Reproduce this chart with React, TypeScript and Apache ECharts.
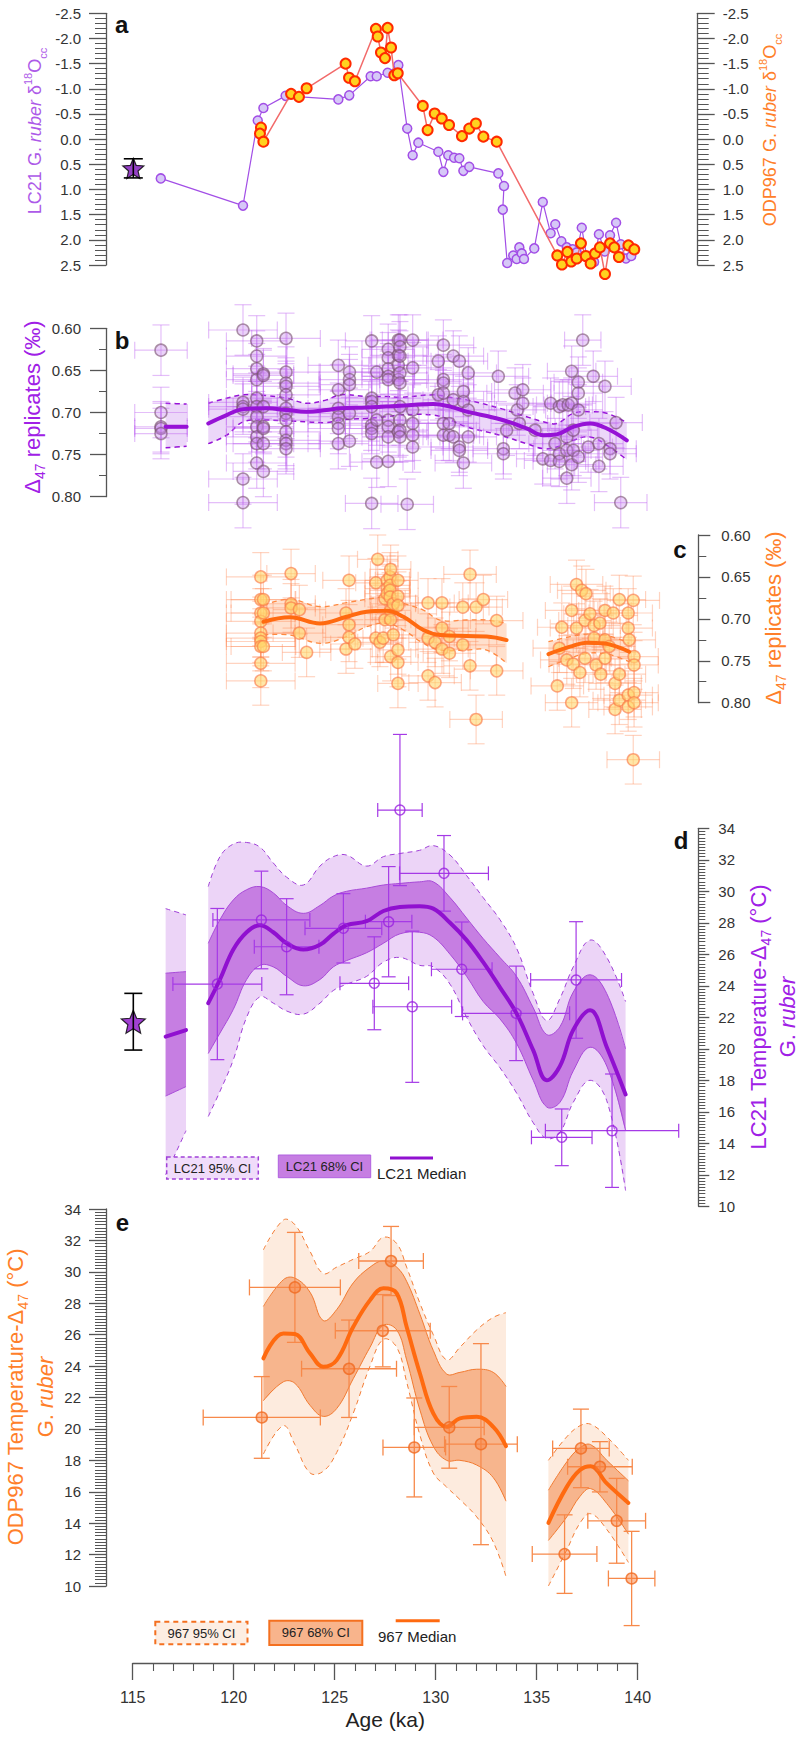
import React, { useEffect, useRef } from "react";
import * as echarts from "echarts";

// ---------------- axis ranges / ticks ----------------
const ageAxis = { min: 115, max: 140, interval: 5 };
const d18OAxis = { min: -2.5, max: 2.5, interval: 0.5 };
const d47Axis = { min: 0.6, max: 0.8, interval: 0.05 };
const tempAxis = { min: 10, max: 34, interval: 2 };

// ---------------- panel a : d18O ----------------
const lc21D18O: number[][] = [
  [116.39, 0.78], [120.46, 1.32], [121.19, -0.37], [121.47, -0.62], [122.57, -0.86], [125.18, -0.79],
  [125.72, -0.87], [126.78, -1.25], [127.08, -1.25], [127.62, -1.32], [128.15, -1.47], [128.59, -0.21],
  [128.86, 0.32], [129.14, 0.07], [130.13, 0.25], [130.38, 0.65], [130.62, 0.32], [130.91, 0.37],
  [131.17, 0.38], [131.37, 0.63], [131.66, 0.55], [133.10, 0.68], [133.38, 0.93], [133.32, 1.40],
  [133.54, 2.46], [133.84, 2.31], [134.01, 2.38], [134.14, 2.15], [134.26, 2.27], [134.37, 2.38],
  [134.88, 2.17], [135.30, 1.25], [135.69, 1.87], [135.92, 1.69], [136.22, 2.03], [136.49, 2.15],
  [136.78, 2.19], [136.98, 2.25], [137.23, 1.76], [137.48, 2.34], [137.84, 2.44], [138.08, 1.89],
  [138.37, 2.23], [138.63, 1.91], [138.93, 1.66], [139.16, 2.09], [139.42, 2.37], [139.68, 2.32],
];
const odp967D18O: number[][] = [
  [121.35, -0.23], [121.30, -0.11], [121.47, 0.05], [122.84, -0.90], [123.23, -0.84], [123.61, -1.01],
  [125.54, -1.50], [125.71, -1.22], [126.00, -1.15], [127.04, -2.19], [127.13, -2.04], [127.29, -1.72],
  [127.49, -1.61], [127.62, -2.21], [127.79, -1.82], [127.95, -1.27], [128.12, -1.31], [129.36, -0.66],
  [129.60, -0.18], [129.95, -0.51], [130.30, -0.41], [130.66, -0.28], [131.30, -0.06], [131.66, -0.21],
  [131.99, -0.31], [132.36, -0.05], [133.02, 0.05], [136.02, 2.31], [136.25, 2.49], [136.52, 2.24],
  [136.71, 2.43], [136.98, 2.37], [137.19, 2.07], [137.43, 2.32], [137.67, 2.47], [137.89, 2.27],
  [138.13, 2.15], [138.38, 2.68], [138.63, 2.07], [138.84, 2.15], [139.07, 2.34], [139.54, 2.11],
  [139.83, 2.19],
];
// core-top (star)
const coreTopAge = 115.03;
const coreTopD18O = 0.58;
const coreTopD18OErr = 0.19;
const coreTopT = 21.72;
const coreTopTErr = 1.8;

// ---------------- panel b : LC21 D47 replicates ----------------
const lc21SampleAge = [
  116.40, 120.46, 121.14, 121.47, 122.59, 125.18, 125.73, 126.83, 127.08, 127.65, 128.15, 128.23,
  128.59, 128.86, 130.13, 130.38, 130.67, 130.87, 131.17, 131.37, 131.61, 133.10, 133.35, 133.51,
  133.93, 134.04, 134.14, 134.31, 134.92, 135.30, 135.69, 135.91, 136.12, 136.29, 136.49, 136.56,
  136.73, 136.81, 137.06, 137.28, 137.55, 137.80, 138.08, 138.38, 138.63, 138.93, 139.16,
];
const lc21SampleAgeErr = [
  1.3, 1.7, 1.5, 1.5, 1.7, 1.5, 1.5, 1.3, 1.3, 1.3, 1.4, 1.4, 1.3, 1.5, 1.5, 1.5, 1.5, 1.5, 1.4, 1.4,
  1.4, 1.5, 1.5, 1.5, 1.4, 1.4, 1.4, 1.4, 1.3, 1.3, 1.3, 1.3, 1.3, 1.3, 1.2, 1.2, 1.2, 1.2, 1.2, 0.9,
  1.2, 1.2, 1.2, 1.3, 1.3, 1.3, 1.3,
];
const lc21RepErr = 0.03;
const lc21Replicates: number[][] = [
  [0.626, 0.700, 0.717, 0.719, 0.725],
  [0.602, 0.688, 0.693, 0.696, 0.779, 0.807],
  [0.615, 0.633, 0.648, 0.661, 0.683, 0.693, 0.705, 0.717, 0.729, 0.737, 0.760],
  [0.654, 0.656, 0.693, 0.717, 0.719, 0.737, 0.770],
  [0.612, 0.652, 0.665, 0.669, 0.679, 0.695, 0.701, 0.709, 0.723, 0.733, 0.737, 0.743],
  [0.644, 0.673, 0.695, 0.705, 0.713, 0.719, 0.737],
  [0.652, 0.661, 0.667, 0.701, 0.734],
  [0.615, 0.683, 0.687, 0.693, 0.715, 0.719, 0.725, 0.808],
  [0.652, 0.709, 0.759],
  [0.625, 0.635, 0.648, 0.657, 0.661, 0.709, 0.717, 0.729, 0.758],
  [0.614, 0.632, 0.644, 0.661, 0.723],
  [0.614, 0.622, 0.633, 0.653, 0.665, 0.693, 0.709, 0.721, 0.729],
  [0.809],
  [0.614, 0.647, 0.697, 0.713, 0.727, 0.741],
  [0.639, 0.679],
  [0.620, 0.661, 0.665, 0.677, 0.713, 0.727],
  [0.713, 0.727],
  [0.633, 0.685, 0.729],
  [0.639, 0.741, 0.745],
  [0.675, 0.687, 0.760],
  [0.653, 0.697, 0.729],
  [0.657],
  [0.743, 0.749],
  [0.721],
  [0.677],
  [0.697],
  [0.713],
  [0.673, 0.689],
  [0.721],
  [0.755],
  [0.689, 0.757],
  [0.737],
  [0.693, 0.749, 0.758],
  [0.691],
  [0.729, 0.745, 0.778],
  [0.691],
  [0.651, 0.689, 0.762],
  [0.721, 0.745],
  [0.664, 0.677, 0.697, 0.753],
  [0.614],
  [0.741],
  [0.657],
  [0.737, 0.764],
  [0.669],
  [0.743, 0.749],
  [0.712],
  [0.807],
];
// LC21 D47 fit (median and envelope)
const lc21RepFitAge1 = [116.63, 117.67];
const lc21RepFitMed1 = [0.717, 0.717];
const lc21RepFitLo1 = [0.689, 0.690];
const lc21RepFitHi1 = [0.742, 0.740];
const lc21RepFitAge2 = [118.74, 119.65, 120.48, 121.63, 122.62, 123.61, 124.60, 125.26, 126.58, 127.57, 128.23, 129.88, 130.71, 131.53, 133.18, 134.50, 135.33, 135.99, 136.81, 137.64, 138.47, 139.46];
const lc21RepFitMed2 = [0.713, 0.703, 0.696, 0.695, 0.697, 0.699, 0.697, 0.695, 0.694, 0.693, 0.692, 0.690, 0.693, 0.699, 0.708, 0.719, 0.727, 0.726, 0.717, 0.713, 0.719, 0.733];
const lc21RepFitLo2 = [0.689, 0.683, 0.679, 0.680, 0.683, 0.689, 0.685, 0.679, 0.681, 0.681, 0.682, 0.679, 0.682, 0.685, 0.695, 0.705, 0.711, 0.713, 0.701, 0.699, 0.701, 0.712];
const lc21RepFitHi2 = [0.737, 0.727, 0.711, 0.709, 0.710, 0.711, 0.712, 0.709, 0.707, 0.705, 0.703, 0.703, 0.709, 0.717, 0.727, 0.737, 0.743, 0.741, 0.733, 0.729, 0.739, 0.756];

// ---------------- panel c : ODP967 D47 replicates ----------------
const odpSampleAge = [
  121.34, 121.47, 122.84, 123.25, 123.61, 125.56, 125.71, 126.00, 127.04, 127.13, 127.24, 127.40,
  127.49, 127.60, 127.74, 127.77, 127.90, 128.13, 129.62, 129.97, 130.31, 130.68, 131.34, 131.70,
  132.00, 132.36, 133.02, 136.02, 136.12, 136.24, 136.49, 136.73, 136.81, 136.97, 137.14, 137.23,
  137.39, 137.44, 137.64, 137.84, 137.94, 138.13, 138.17, 138.38, 138.59, 138.79, 138.88, 139.09,
  139.53, 139.58, 139.78, 139.82,
];
const odpSampleAgeErr = [
  1.7, 1.6, 1.2, 1.3, 1.2, 1.3, 1.3, 1.2, 1.0, 1.0, 1.1, 1.0, 1.0, 1.1, 1.0, 1.0, 1.1, 1.0,
  1.3, 1.3, 1.3, 1.3, 1.3, 1.3, 1.3, 1.2, 1.3, 1.3, 1.3, 1.2, 1.3, 1.3, 1.2, 1.3, 1.3, 1.2,
  1.3, 1.2, 1.3, 1.3, 1.2, 1.3, 1.2, 1.3, 1.3, 1.2, 1.3, 1.3, 1.2, 1.3, 1.3, 1.2,
];
const odpRepErr = 0.029;
const odpReplicates: number[][] = [
  [0.650, 0.677, 0.693, 0.703, 0.717, 0.723, 0.727, 0.733, 0.753, 0.774],
  [0.677, 0.693, 0.733],
  [0.646, 0.682, 0.687],
  [0.689, 0.717],
  [0.740],
  [0.693, 0.736],
  [0.654, 0.707, 0.722],
  [0.730],
  [0.657, 0.723],
  [0.629],
  [0.728],
  [0.723],
  [0.676, 0.701],
  [0.654, 0.664, 0.670],
  [0.650, 0.660, 0.666, 0.674],
  [0.641, 0.690, 0.701, 0.745],
  [0.682, 0.719],
  [0.654, 0.673, 0.684, 0.737, 0.752, 0.777],
  [0.681, 0.723, 0.768],
  [0.728, 0.776],
  [0.681, 0.711, 0.736],
  [0.721, 0.741],
  [0.686, 0.731],
  [0.647, 0.756],
  [0.686, 0.820],
  [0.677],
  [0.702, 0.762],
  [0.780],
  [0.735],
  [0.710],
  [0.749],
  [0.690, 0.800],
  [0.754],
  [0.659, 0.711],
  [0.764],
  [0.666],
  [0.702, 0.747],
  [0.670],
  [0.694],
  [0.708, 0.723],
  [0.755],
  [0.705],
  [0.766],
  [0.690, 0.725, 0.747],
  [0.733],
  [0.693],
  [0.777, 0.808],
  [0.677, 0.766, 0.797],
  [0.693, 0.711, 0.791, 0.805],
  [0.725],
  [0.678, 0.868],
  [0.745, 0.755, 0.788, 0.800],
];
const odpRepFitAge1 = [121.47, 122.79, 124.27, 125.59, 126.58, 127.57, 128.40, 129.39, 130.21, 131.53, 132.52, 133.51];
const odpRepFitMed1 = [0.7034, 0.6981, 0.7054, 0.6975, 0.6915, 0.6903, 0.6975, 0.7133, 0.7193, 0.7205, 0.7210, 0.7253];
const odpRepFitLo1 = [0.6835, 0.6767, 0.6855, 0.6807, 0.6767, 0.6743, 0.6815, 0.6895, 0.7014, 0.7014, 0.7014, 0.7054];
const odpRepFitHi1 = [0.7193, 0.7193, 0.7292, 0.7213, 0.7094, 0.7054, 0.7133, 0.7292, 0.7372, 0.7372, 0.7372, 0.7530];
const odpRepFitAge2 = [135.58, 136.65, 137.47, 138.30, 138.96, 139.58];
const odpRepFitMed2 = [0.7420, 0.7332, 0.7284, 0.7292, 0.7332, 0.7392];
const odpRepFitLo2 = [0.7273, 0.7213, 0.7181, 0.7193, 0.7232, 0.7292];
const odpRepFitHi2 = [0.7571, 0.7471, 0.7412, 0.7412, 0.7452, 0.7511];

// ---------------- panel d : LC21 temperature ----------------
const lc21TAge = [119.19, 121.37, 122.62, 125.43, 126.96, 127.67, 128.23, 128.84, 130.41, 131.29, 133.98, 136.24, 136.95, 138.73];
const lc21T = [24.11, 28.18, 26.48, 27.65, 24.16, 28.07, 35.16, 22.67, 31.14, 25.05, 22.25, 14.38, 24.37, 14.80];
const lc21TAgeErr = [2.2, 2.4, 1.6, 1.9, 1.7, 1.15, 1.1, 1.95, 2.2, 1.5, 2.65, 1.5, 2.25, 3.3];
const lc21TErr = [4.8, 3.1, 3.05, 2.2, 2.95, 3.5, 4.8, 4.8, 2.4, 3.0, 3.0, 1.8, 3.7, 3.6];
const lc21TFitAge1 = [116.63, 117.64];
const lc21TFitMed1 = [20.77, 21.19];
const lc21TFitLo68_1 = [17.0, 17.6];
const lc21TFitHi68_1 = [24.8, 24.9];
const lc21TFitLo95_1 = [12.0, 14.8];
const lc21TFitHi95_1 = [28.9, 28.5];
const lc21TFitAge2 = [118.74, 119.32, 119.98, 120.64, 121.30, 121.96, 122.62, 123.45, 124.27, 124.93, 125.59, 126.58, 127.41, 128.23, 129.20, 129.88, 130.71, 131.53, 132.35, 133.18, 134.00, 134.83, 135.50, 136.15, 136.81, 137.64, 138.47, 139.40];
const lc21TFitMed2 = [22.9, 24.4, 26.3, 27.4, 27.85, 27.4, 26.7, 26.3, 26.6, 27.3, 27.85, 28.1, 28.75, 29.0, 29.05, 28.9, 28.0, 26.9, 25.5, 23.9, 22.25, 19.9, 18.0, 18.9, 21.2, 22.45, 20.1, 17.1];
const lc21TFitLo68_2 = [19.7, 21.0, 22.5, 24.4, 25.3, 25.2, 24.6, 24.0, 24.4, 25.2, 25.6, 26.1, 26.7, 27.3, 27.4, 27.1, 26.0, 24.6, 23.0, 21.9, 20.35, 18.0, 16.3, 16.6, 18.6, 20.1, 18.9, 14.8];
const lc21TFitHi68_2 = [26.7, 28.2, 29.45, 30.1, 30.3, 29.9, 29.1, 28.6, 29.1, 29.7, 30.0, 30.2, 30.4, 30.5, 30.6, 30.6, 29.6, 28.3, 27.0, 25.8, 24.6, 22.6, 20.9, 21.4, 23.6, 24.7, 23.5, 20.0];
const lc21TFitLo95_2 = [15.7, 17.3, 19.3, 22.0, 23.3, 22.9, 22.4, 22.2, 22.9, 23.7, 24.1, 24.6, 25.5, 25.8, 25.3, 25.2, 24.1, 22.0, 20.2, 18.8, 17.2, 15.3, 14.3, 14.7, 16.6, 18.0, 16.7, 11.0];
const lc21TFitHi95_2 = [30.3, 32.2, 33.0, 33.1, 32.8, 31.8, 30.9, 30.4, 31.6, 32.2, 32.3, 31.6, 32.2, 32.4, 32.6, 32.9, 32.3, 31.0, 29.6, 28.2, 26.4, 23.5, 21.8, 23.2, 25.2, 26.9, 25.8, 23.0];

// ---------------- panel e : ODP967 temperature ----------------
const odpTAge = [121.39, 123.03, 125.71, 127.38, 127.79, 128.94, 130.67, 132.24, 136.38, 137.19, 138.13, 138.96, 139.70];
const odpT = [20.73, 29.01, 23.83, 26.25, 30.69, 18.82, 20.10, 19.03, 12.03, 18.76, 17.59, 14.15, 10.48];
const odpTAgeErr = [2.9, 2.25, 2.35, 2.35, 1.6, 1.55, 1.73, 1.8, 1.6, 1.4, 1.6, 1.43, 1.15];
const odpTErr = [2.6, 3.5, 3.1, 2.3, 2.2, 3.15, 2.6, 6.4, 2.5, 2.5, 1.6, 2.7, 3.0];
const odpTFitAge1 = [121.47, 122.46, 123.03, 123.78, 124.43, 125.10, 125.92, 126.75, 127.41, 128.07, 128.56, 129.22, 129.88, 130.54, 131.20, 132.03, 132.85, 133.48];
const odpTFitMed1 = [24.49, 26.08, 26.04, 24.81, 23.96, 24.38, 26.5, 28.2, 28.95, 28.63, 26.5, 23.53, 20.99, 20.13, 20.67, 20.77, 20.13, 18.9];
const odpTFitHi68_1 = [27.8, 29.5, 29.6, 28.7, 26.9, 27.6, 29.3, 30.3, 30.7, 30.3, 29.4, 27.3, 25.0, 23.5, 23.6, 23.8, 23.6, 22.7];
const odpTFitLo68_1 = [21.8, 23.0, 22.9, 21.5, 20.8, 21.3, 23.2, 25.2, 26.6, 26.3, 24.4, 21.2, 18.9, 18.0, 18.0, 17.7, 16.9, 15.4];
const odpTFitHi95_1 = [31.4, 33.3, 33.0, 31.3, 29.9, 30.3, 30.8, 31.3, 32.2, 31.8, 30.3, 28.0, 26.0, 24.4, 25.2, 26.3, 27.1, 27.4];
const odpTFitLo95_1 = [18.4, 20.2, 19.0, 17.2, 17.3, 18.5, 21.0, 24.0, 25.7, 25.2, 23.0, 19.6, 17.2, 16.3, 15.5, 14.4, 12.8, 10.6];
const odpTFitAge2 = [135.58, 136.49, 137.14, 137.67, 138.47, 139.54];
const odpTFitMed2 = [14.02, 16.31, 17.38, 17.63, 16.53, 15.29];
const odpTFitHi68_2 = [16.1, 17.9, 18.8, 19.0, 18.0, 16.7];
const odpTFitLo68_2 = [12.9, 14.4, 15.7, 16.2, 15.25, 13.3];
const odpTFitHi95_2 = [18.0, 19.5, 20.2, 20.3, 19.5, 18.0];
const odpTFitLo95_2 = [10.0, 12.3, 14.0, 14.6, 13.6, 11.5];

// ---------------- styling ----------------
const FONT = '"Liberation Sans", Arial, Helvetica, sans-serif';
const AXIS = "#555";
const PURPLE_A = "#ad5ae8";
const PURPLE = "#a020e6";
const ORANGE = "#ff7f2a";
const STAR_PATH = "path://M12,1 L15.1,8.6 L23.3,9.3 L17.1,14.7 L18.9,22.7 L12,18.5 L5.1,22.7 L6.9,14.7 L0.7,9.3 L8.9,8.6 Z";
const SMOOTH = 0.4;

const GL = 132.7;
const GW = 505;

function yAx(grid: number, position: string, offset: number, ax: any, inverse: boolean, tickLen: number, minorSplit: number, minorLen: number, margin: number, decimals: number | null) {
  return {
    type: "value", gridIndex: grid, position, offset, min: ax.min, max: ax.max, interval: ax.interval, inverse,
    axisLine: { show: true, onZero: false, lineStyle: { color: AXIS, width: 1.3 } },
    axisTick: { show: true, length: tickLen, lineStyle: { color: AXIS, width: 1.3 } },
    minorTick: { show: true, splitNumber: minorSplit, length: minorLen, lineStyle: { color: AXIS, width: 1 } },
    axisLabel: {
      show: true, margin, fontSize: 15, color: "#333", fontFamily: FONT,
      formatter: (v: number) => (decimals == null ? String(v) : v.toFixed(decimals)),
    },
    splitLine: { show: false },
    minorSplitLine: { show: false },
  };
}

function errorBars(xi: number, yi: number, data: number[][], color: string, width: number, cap: number, z: number) {
  return {
    type: "custom", xAxisIndex: xi, yAxisIndex: yi, z, silent: true, clip: false,
    data, encode: { x: 0, y: 1 },
    renderItem: (params: any, api: any) => {
      const x = api.value(0), y = api.value(1), xe = api.value(2), ye = api.value(3);
      const h = cap / 2;
      const style = { stroke: color, lineWidth: width, fill: "none" };
      const ch: any[] = [];
      if (xe > 0) {
        const l = api.coord([x - xe, y]);
        const r = api.coord([x + xe, y]);
        ch.push({ type: "line", shape: { x1: l[0], y1: l[1], x2: r[0], y2: r[1] }, style });
        ch.push({ type: "line", shape: { x1: l[0], y1: l[1] - h, x2: l[0], y2: l[1] + h }, style });
        ch.push({ type: "line", shape: { x1: r[0], y1: r[1] - h, x2: r[0], y2: r[1] + h }, style });
      }
      if (ye > 0) {
        const t = api.coord([x, y - ye]);
        const b = api.coord([x, y + ye]);
        ch.push({ type: "line", shape: { x1: t[0], y1: t[1], x2: b[0], y2: b[1] }, style });
        ch.push({ type: "line", shape: { x1: t[0] - h, y1: t[1], x2: t[0] + h, y2: t[1] }, style });
        ch.push({ type: "line", shape: { x1: b[0] - h, y1: b[1], x2: b[0] + h, y2: b[1] }, style });
      }
      return { type: "group", children: ch };
    },
  };
}

// confidence envelope: filled area between lo and hi, with edge lines
function band(xi: number, yi: number, ages: number[], lo: number[], hi: number[], fill: string, edge: string, dashed: boolean, edgeW: number, z: number) {
  return {
    type: "custom", xAxisIndex: xi, yAxisIndex: yi, z, silent: true, clip: false,
    data: ages.map((a, i) => [a, lo[i], hi[i]]),
    encode: { x: 0, y: [1, 2] },
    renderItem: (params: any, api: any) => {
      if (params.dataIndex !== 0) return null;
      const n = ages.length;
      const up = ages.map((a, i) => api.coord([a, hi[i]]));
      const dn = ages.map((a, i) => api.coord([a, lo[i]]));
      const poly = [up[0], ...up, up[n - 1], dn[n - 1], ...dn.slice().reverse(), dn[0]];
      const edgeStyle: any = { stroke: edge, lineWidth: edgeW, fill: "none" };
      if (dashed) edgeStyle.lineDash = [5, 4];
      return {
        type: "group",
        children: [
          { type: "polygon", shape: { points: poly, smooth: SMOOTH }, style: { fill, stroke: "none" } },
          { type: "polyline", shape: { points: up, smooth: SMOOTH }, style: edgeStyle },
          { type: "polyline", shape: { points: dn, smooth: SMOOTH }, style: edgeStyle },
        ],
      };
    },
  };
}

function medianLine(xi: number, yi: number, ages: number[], med: number[], color: string, z: number) {
  return {
    type: "line", xAxisIndex: xi, yAxisIndex: yi, smooth: SMOOTH, symbol: "none", silent: true, z,
    data: ages.map((a, i) => [a, med[i]]), lineStyle: { color, width: 4, cap: "round" },
  };
}

function rich(color: string, size: number) {
  const sub = Math.round(size * 0.62);
  return {
    n: { fill: color, color, fontSize: size, fontFamily: FONT, lineHeight: size + 8 },
    i: { fill: color, color, fontSize: size, fontFamily: FONT, fontStyle: "italic", lineHeight: size + 8 },
    sup: { fill: color, color, fontSize: sub, fontFamily: FONT, verticalAlign: "top" },
    sub: { fill: color, color, fontSize: sub, fontFamily: FONT, verticalAlign: "bottom" },
  };
}

function vText(x: number, y: number, text: string, color: string, size: number) {
  return {
    type: "text", x, y, rotation: Math.PI / 2, silent: true, z: 100,
    style: {
      text, rich: rich(color, size), fill: color, fontSize: size, fontFamily: FONT,
      align: "center", verticalAlign: "middle", textAlign: "center", textVerticalAlign: "middle",
    },
  };
}

function hText(x: number, y: number, text: string, size: number, align: string, bold = false, color = "#222") {
  return {
    type: "text", x, y, silent: true, z: 100,
    style: {
      text, fill: color, fontSize: size, fontFamily: FONT, fontWeight: bold ? "bold" : "normal",
      align, verticalAlign: "middle", textAlign: align, textVerticalAlign: "middle",
    },
  };
}

function buildOption() {
  const grids = [
    { top: 13.3, height: 251.7 },
    { top: 328.3, height: 168.4 },
    { top: 535, height: 167.7 },
    { top: 828.3, height: 378 },
    { top: 1209, height: 377 },
  ].map((g) => ({ left: GL, width: GW, top: g.top, height: g.height, show: false, containLabel: false, outerBoundsMode: "none" }));

  const xAxes = grids.map((_, i) => {
    const shown = i === 4;
    return {
      type: "value", gridIndex: i, min: ageAxis.min, max: ageAxis.max, interval: ageAxis.interval,
      show: shown, position: "bottom", offset: shown ? 77 : 0,
      axisLine: { show: shown, onZero: false, lineStyle: { color: AXIS, width: 1.3 } },
      axisTick: { show: shown, length: 17, lineStyle: { color: AXIS, width: 1.3 } },
      minorTick: { show: shown, splitNumber: 5, length: 8, lineStyle: { color: AXIS, width: 1.1 } },
      axisLabel: { show: shown, margin: 26, fontSize: 16, color: "#333", fontFamily: FONT },
      splitLine: { show: false }, minorSplitLine: { show: false },
      name: shown ? "Age (ka)" : "", nameLocation: "middle", nameGap: 46,
      nameTextStyle: { fontSize: 21, color: "#222", fontFamily: FONT },
    };
  });

  const yAxes = [
    yAx(0, "left", 26.7, d18OAxis, true, 17, 5, 11, 25, 1),
    yAx(0, "right", 60, d18OAxis, true, 17, 5, 11, 25, 1),
    yAx(1, "left", 26.7, d47Axis, true, 16, 2, 7, 25, 2),
    yAx(2, "right", 60.6, d47Axis, true, 12, 2, 8, 23, 2),
    yAx(3, "right", 60.6, tempAxis, false, 11, 10, 7, 20, null),
    yAx(4, "left", 26.7, tempAxis, false, 17, 10, 11, 25, null),
  ];

  const lc21RepPoints: number[][] = [];
  lc21SampleAge.forEach((age, i) => (lc21Replicates[i] || []).forEach((v) => lc21RepPoints.push([age, v, lc21SampleAgeErr[i] ?? 1.3, lc21RepErr])));
  const odpRepPoints: number[][] = [];
  odpSampleAge.forEach((age, i) => (odpReplicates[i] || []).forEach((v) => odpRepPoints.push([age, v, odpSampleAgeErr[i] ?? 1.2, odpRepErr])));

  const lc21TPoints = lc21TAge.map((a, i) => [a, lc21T[i], lc21TAgeErr[i], lc21TErr[i]]);
  const odpTPoints = odpTAge.map((a, i) => [a, odpT[i], odpTAgeErr[i], odpTErr[i]]);

  const series: any[] = [
    // ---- panel a
    {
      type: "line", xAxisIndex: 0, yAxisIndex: 0, data: lc21D18O, clip: false, z: 3,
      symbol: "circle", symbolSize: 9,
      itemStyle: { color: "#d6c8f7", borderColor: "#a24ee6", borderWidth: 1.5 },
      lineStyle: { color: "#a24ee6", width: 1.2 },
    },
    {
      type: "line", xAxisIndex: 0, yAxisIndex: 1, data: odp967D18O, clip: false, z: 4,
      symbol: "circle", symbolSize: 10,
      itemStyle: { color: "#ffd21f", borderColor: "#ff2a00", borderWidth: 2 },
      lineStyle: { color: "#f26a6a", width: 1.5 },
    },
    {
      type: "scatter", xAxisIndex: 0, yAxisIndex: 0, data: [[coreTopAge, coreTopD18O]], clip: false, z: 5,
      symbol: STAR_PATH, symbolSize: 21, symbolKeepAspect: true,
      itemStyle: { color: "#7a12b8", borderColor: "#000", borderWidth: 1.2 },
    },
    errorBars(0, 0, [[coreTopAge, coreTopD18O, 0, coreTopD18OErr]], "#000", 1.6, 19, 6),

    // ---- panel b
    band(1, 2, lc21RepFitAge1, lc21RepFitLo1, lc21RepFitHi1, "rgba(205,150,240,0.38)", "#9612d6", true, 1.5, 1),
    band(1, 2, lc21RepFitAge2, lc21RepFitLo2, lc21RepFitHi2, "rgba(205,150,240,0.38)", "#9612d6", true, 1.5, 1),
    errorBars(1, 2, lc21RepPoints, "rgba(190,100,240,0.42)", 1.2, 17, 2),
    {
      type: "scatter", xAxisIndex: 1, yAxisIndex: 2, data: lc21RepPoints.map((p) => [p[0], p[1]]), clip: false, z: 3,
      symbol: "circle", symbolSize: 12,
      itemStyle: { color: "rgba(196,130,235,0.45)", borderColor: "rgba(120,80,110,0.75)", borderWidth: 1.5 },
    },
    medianLine(1, 2, lc21RepFitAge1, lc21RepFitMed1, "#9612d6", 4),
    medianLine(1, 2, lc21RepFitAge2, lc21RepFitMed2, "#9612d6", 4),

    // ---- panel c
    band(2, 3, odpRepFitAge1, odpRepFitLo1, odpRepFitHi1, "rgba(255,160,100,0.32)", "#ff8a40", true, 1.3, 1),
    band(2, 3, odpRepFitAge2, odpRepFitLo2, odpRepFitHi2, "rgba(255,160,100,0.32)", "#ff8a40", true, 1.3, 1),
    errorBars(2, 3, odpRepPoints, "rgba(255,140,90,0.38)", 1.2, 17, 2),
    {
      type: "scatter", xAxisIndex: 2, yAxisIndex: 3, data: odpRepPoints.map((p) => [p[0], p[1]]), clip: false, z: 3,
      symbol: "circle", symbolSize: 12,
      itemStyle: { color: "rgba(255,215,110,0.75)", borderColor: "rgba(250,120,70,0.8)", borderWidth: 1.5 },
    },
    medianLine(2, 3, odpRepFitAge1, odpRepFitMed1, "#ff6a10", 4),
    medianLine(2, 3, odpRepFitAge2, odpRepFitMed2, "#ff6a10", 4),

    // ---- panel d
    band(3, 4, lc21TFitAge1, lc21TFitLo95_1, lc21TFitHi95_1, "#ecd4f7", "#a040d8", true, 1, 1),
    band(3, 4, lc21TFitAge2, lc21TFitLo95_2, lc21TFitHi95_2, "#ecd4f7", "#a040d8", true, 1, 1),
    band(3, 4, lc21TFitAge1, lc21TFitLo68_1, lc21TFitHi68_1, "#c67ee2", "#a84ad8", false, 1, 2),
    band(3, 4, lc21TFitAge2, lc21TFitLo68_2, lc21TFitHi68_2, "#c67ee2", "#a84ad8", false, 1, 2),
    errorBars(3, 4, lc21TPoints, "#a53ae6", 1.2, 14, 3),
    medianLine(3, 4, lc21TFitAge1, lc21TFitMed1, "#9010d0", 4),
    medianLine(3, 4, lc21TFitAge2, lc21TFitMed2, "#9010d0", 4),
    {
      type: "scatter", xAxisIndex: 3, yAxisIndex: 4, data: lc21TPoints.map((p) => [p[0], p[1]]), clip: false, z: 5,
      symbol: "circle", symbolSize: 10,
      itemStyle: { color: "rgba(0,0,0,0)", borderColor: "#9a22e0", borderWidth: 1.5 },
    },
    {
      type: "scatter", xAxisIndex: 3, yAxisIndex: 4, data: [[coreTopAge, coreTopT]], clip: false, z: 5,
      symbol: STAR_PATH, symbolSize: 24, symbolKeepAspect: true,
      itemStyle: { color: "#8a10c8", borderColor: "#000", borderWidth: 1.2 },
    },
    errorBars(3, 4, [[coreTopAge, coreTopT, 0, coreTopTErr]], "#000", 1.6, 18, 6),

    // ---- panel e
    band(4, 5, odpTFitAge1, odpTFitLo95_1, odpTFitHi95_1, "#fdebde", "#f47d35", true, 1, 1),
    band(4, 5, odpTFitAge2, odpTFitLo95_2, odpTFitHi95_2, "#fdebde", "#f47d35", true, 1, 1),
    band(4, 5, odpTFitAge1, odpTFitLo68_1, odpTFitHi68_1, "#f7b58d", "#f27a30", false, 1, 2),
    band(4, 5, odpTFitAge2, odpTFitLo68_2, odpTFitHi68_2, "#f7b58d", "#f27a30", false, 1, 2),
    errorBars(4, 5, odpTPoints, "#f7894a", 1.3, 16, 3),
    medianLine(4, 5, odpTFitAge1, odpTFitMed1, "#ff6a10", 4),
    medianLine(4, 5, odpTFitAge2, odpTFitMed2, "#ff6a10", 4),
    {
      type: "scatter", xAxisIndex: 4, yAxisIndex: 5, data: odpTPoints.map((p) => [p[0], p[1]]), clip: false, z: 5,
      symbol: "circle", symbolSize: 11,
      itemStyle: { color: "rgba(248,128,60,0.6)", borderColor: "#f06a20", borderWidth: 1.5 },
    },
  ];

  const graphic: any[] = [
    // panel letters
    hText(121.7, 24, "a", 24, "center", true, "#111"),
    hText(122, 340, "b", 24, "center", true, "#111"),
    hText(680, 549, "c", 24, "center", true, "#111"),
    hText(681, 840, "d", 24, "center", true, "#111"),
    hText(122.5, 1222, "e", 24, "center", true, "#111"),
    // axis titles
    vText(35, 131, "{n|LC21 G. }{i|ruber}{n| δ}{sup|18}{n|O}{sub|cc}", PURPLE_A, 18),
    vText(770, 130, "{n|ODP967 G. }{i|ruber}{n| δ}{sup|18}{n|O}{sub|cc}", ORANGE, 18),
    vText(32, 407, "{n|Δ}{sub|47}{n| replicates (‰)}", PURPLE, 22),
    vText(773, 618, "{n|Δ}{sub|47}{n| replicates (‰)}", ORANGE, 22),
    vText(758, 1017, "{n|LC21 Temperature-Δ}{sub|47}{n| (°C)}", PURPLE, 22),
    vText(787, 1017, "{n|G. }{i|ruber}", PURPLE, 22),
    vText(15, 1397, "{n|ODP967 Temperature-Δ}{sub|47}{n| (°C)}", ORANGE, 22),
    vText(45, 1397, "{n|G. }{i|ruber}", ORANGE, 22),
    // LC21 legend
    { type: "rect", silent: true, z: 90, shape: { x: 166.7, y: 1157, width: 91.6, height: 22 }, style: { fill: "#f0dcfa", stroke: "#a040d8", lineWidth: 1.5, lineDash: [4, 3] } },
    hText(212.5, 1168, "LC21 95% CI", 13, "center"),
    { type: "rect", silent: true, z: 90, shape: { x: 278.3, y: 1155, width: 92.4, height: 22.7 }, style: { fill: "#c67ee2", stroke: "#b060e0", lineWidth: 1 } },
    hText(324.5, 1166.5, "LC21 68% CI", 13, "center"),
    { type: "line", silent: true, z: 90, shape: { x1: 390, y1: 1158, x2: 433, y2: 1158 }, style: { stroke: "#9010d0", lineWidth: 3 } },
    hText(377, 1173, "LC21 Median", 15, "left"),
    // ODP967 legend
    { type: "rect", silent: true, z: 90, shape: { x: 155.3, y: 1621.7, width: 92.2, height: 22.6 }, style: { fill: "#fdeee3", stroke: "#f47020", lineWidth: 2, lineDash: [5, 4] } },
    hText(201.4, 1633, "967 95% CI", 13, "center"),
    { type: "rect", silent: true, z: 90, shape: { x: 269.3, y: 1620.7, width: 93, height: 24.3 }, style: { fill: "#f8b48c", stroke: "#f47020", lineWidth: 2 } },
    hText(315.8, 1632.8, "967 68% CI", 13, "center"),
    { type: "line", silent: true, z: 90, shape: { x1: 395.7, y1: 1620.7, x2: 439.7, y2: 1620.7 }, style: { stroke: "#ff6a10", lineWidth: 3 } },
    hText(378, 1636, "967 Median", 15, "left"),
  ];

  return {
    animation: false,
    backgroundColor: "#ffffff",
    textStyle: { fontFamily: FONT },
    grid: grids,
    xAxis: xAxes,
    yAxis: yAxes,
    series,
    graphic,
  };
}

export default function App() {
  const ref = useRef<HTMLDivElement>(null);
  useEffect(() => {
    const chart = echarts.init(ref.current as HTMLDivElement, undefined, { renderer: "svg" });
    chart.setOption(buildOption() as any);
    return () => chart.dispose();
  }, []);
  return (
    <div
      ref={ref}
      style={{ position: "absolute", left: 0, top: 0, width: 800, height: 1739, background: "#fff" }}
    />
  );
}
